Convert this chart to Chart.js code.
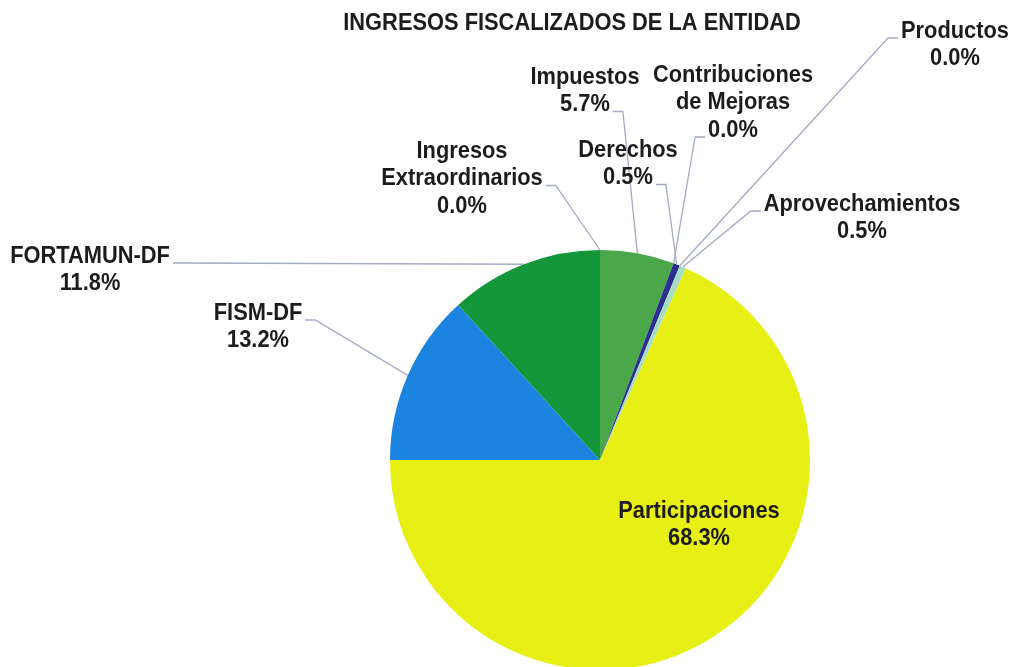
<!DOCTYPE html>
<html>
<head>
<meta charset="utf-8">
<script src="https://cdn.jsdelivr.net/npm/chart.js@4/dist/chart.umd.min.js"></script>
<style>
  html, body { margin: 0; padding: 0; background: #fff; overflow: hidden; }
  #wrap { width: 1018px; height: 680px; }
</style>
</head>
<body>
<div id="wrap"><canvas id="pieChart" width="1018" height="680"></canvas></div>
<script>
// datos del grafico
const titulo = "INGRESOS FISCALIZADOS DE LA ENTIDAD";
const categorias = [
  ["Impuestos"],
  ["Contribuciones", "de Mejoras"],
  ["Derechos"],
  ["Productos"],
  ["Aprovechamientos"],
  ["Participaciones"],
  ["FISM-DF"],
  ["FORTAMUN-DF"],
  ["Ingresos", "Extraordinarios"]
];
const porcentajes = [5.7, 0.0, 0.5, 0.0, 0.5, 68.3, 13.2, 11.8, 0.0];
const colores = ["#4aa84a", "#6fbf6f", "#2b2f8f", "#7fb0d8", "#a6dcc2", "#e8ef14", "#1b84e0", "#14963a", "#2a9a4a"];

// posicion de etiquetas: centro x, y de la primera linea, linea de la guia, lado de la guia
const etiquetas = [
  { x: 585, y: 77, line: 1, side: "right" },
  { x: 733, y: 75, line: 2, side: "left" },
  { x: 628, y: 150, line: 1, side: "right" },
  { x: 955, y: 31, line: 0, side: "left" },
  { x: 862, y: 204, line: 0, side: "left" },
  { x: 699, y: 511, line: -1 },
  { x: 258, y: 313, line: 0, side: "right" },
  { x: 90, y: 256, line: 0, side: "right" },
  { x: 462, y: 151, line: 1, side: "right" }
];

// letra tipo "Arial Narrow": Liberation Sans bold estrechada
const FONT = "bold 24px 'Liberation Sans', Arial, sans-serif";
const SCALE_X = 0.91;
const LINE_H = 27.5;

function texto(ctx, t, x, y) {
  ctx.save();
  ctx.translate(x, y);
  ctx.scale(SCALE_X, 1);
  ctx.fillText(t, 0, 0);
  ctx.restore();
}

const etiquetasPlugin = {
  id: "etiquetas",
  afterDraw(chart) {
    const ctx = chart.ctx;
    const arcs = chart.getDatasetMeta(0).data;
    ctx.save();
    ctx.font = FONT;
    ctx.textAlign = "center";
    ctx.textBaseline = "middle";
    ctx.fillStyle = "#1c1c1c";
    texto(ctx, titulo, 572, 23);

    arcs.forEach((arc, i) => {
      const pos = etiquetas[i];
      const lines = categorias[i].concat([porcentajes[i].toFixed(1) + "%"]);
      ctx.fillStyle = "#1c1c1c";
      lines.forEach((t, k) => texto(ctx, t, pos.x, pos.y + k * LINE_H));
      if (pos.line < 0) return;

      const p = arc.getProps(["x", "y", "startAngle", "endAngle", "outerRadius"], true);
      const mid = (p.startAngle + p.endAngle) / 2;
      const ax = p.x + Math.cos(mid) * p.outerRadius;
      const ay = p.y + Math.sin(mid) * p.outerRadius;

      const w = ctx.measureText(lines[pos.line]).width * SCALE_X;
      const ly = pos.y + pos.line * LINE_H + 7;
      const dir = pos.side === "right" ? 1 : -1;
      const sx = pos.x + dir * (w / 2 + 3);
      const ex = sx + dir * 10;

      ctx.strokeStyle = "#a4abc2";
      ctx.lineWidth = 1.3;
      ctx.beginPath();
      ctx.moveTo(sx, ly);
      ctx.lineTo(ex, ly);
      ctx.lineTo(ax, ay);
      ctx.stroke();
    });
    ctx.restore();
  }
};

new Chart(document.getElementById("pieChart").getContext("2d"), {
  type: "pie",
  data: {
    labels: categorias.map(c => c.join(" ")),
    datasets: [{
      data: porcentajes,
      backgroundColor: colores,
      borderWidth: 0
    }]
  },
  options: {
    responsive: false,
    animation: false,
    layout: { padding: { left: 390, right: 208, top: 250, bottom: 10 } },
    plugins: {
      legend: { display: false },
      tooltip: { enabled: false }
    }
  },
  plugins: [etiquetasPlugin]
});
</script>
</body>
</html>
